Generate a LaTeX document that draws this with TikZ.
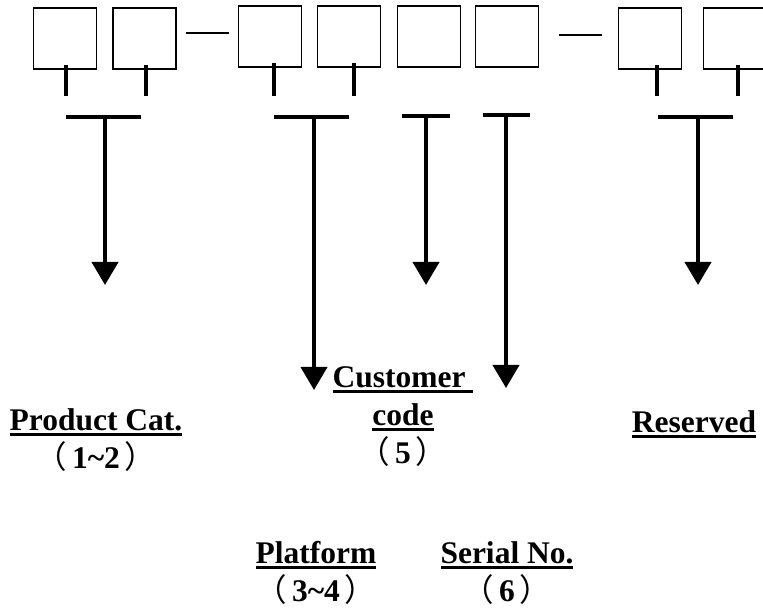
\documentclass[tikz,border=0pt]{standalone}
\usepackage{fontspec}
\setmainfont{Liberation Serif}
\newfontfamily\cjk{Noto Sans CJK SC}
\usetikzlibrary{arrows.meta}
\newcommand\myul[1]{\setbox0\hbox{#1}\rlap{\rule[-5.5pt]{\wd0}{3pt}}\box0}
\newcommand\lp{{\cjk\mdseries （}\hspace{5pt}}
\newcommand\rp{\hspace{5pt}{\cjk\mdseries ）}}
\begin{document}
\begin{tikzpicture}[x=1pt,y=-1pt,
  codebox/.style={draw,line width=1.6pt,inner sep=0pt,minimum width=63pt,minimum height=61pt},
  hyph/.style={line width=1.5pt},
  tick/.style={line width=4pt},
  tbar/.style={line width=4pt},
  arr/.style={line width=4pt,-{Triangle[length=23pt,width=26pt]}},
  lbl/.style={font=\fontsize{31.5}{38}\selectfont\bfseries,align=center,inner sep=0pt,anchor=base}]
\clip (0,0) rectangle (763,609);
\fill[white] (0,0) rectangle (763,609);
% boxes
\node[codebox] (b1) at (65,38.5) {};
\node[codebox] (b2) at (144.5,38.5) {};
\node[codebox] (b3) at (270,36.5) {};
\node[codebox] (b4) at (349,36.5) {};
\node[codebox] (b5) at (429,36.5) {};
\node[codebox] (b6) at (507,36.5) {};
\node[codebox] (b7) at (650,38.5) {};
\node[codebox] (b8) at (735,38.5) {};
% hyphens
\draw[hyph] (186,33) -- (229,33);
\draw[hyph] (559,35) -- (602,35);
% ticks
\draw[tick] (66,65) -- (66,96);
\draw[tick] (146,65) -- (146,96);
\draw[tick] (274,63) -- (274,96);
\draw[tick] (354,63) -- (354,96);
\draw[tick] (657,65) -- (657,96);
\draw[tick] (738,65) -- (738,96);
% T bars
\coordinate (t1) at (105,117);
\coordinate (t2) at (314,117);
\coordinate (t3) at (426,116);
\coordinate (t4) at (506,115);
\coordinate (t5) at (698,117);
\draw[tbar] (66,117) -- (141,117);
\draw[tbar] (274,117) -- (349,117);
\draw[tbar] (402,116) -- (450,116);
\draw[tbar] (483,115) -- (530,115);
\draw[tbar] (658,117) -- (733,117);
% arrow tips
\coordinate (e1) at (105,285);
\coordinate (e2) at (314,390);
\coordinate (e3) at (426,285);
\coordinate (e4) at (506,388);
\coordinate (e5) at (698,285);
\draw[arr] (t1) -- (e1);
\draw[arr] (t2) -- (e2);
\draw[arr] (t3) -- (e3);
\draw[arr] (t4) -- (e4);
\draw[arr] (t5) -- (e5);
% labels (anchor = baseline of last line)
\node[lbl] (lpc) at (96,468) {\myul{Product Cat.}\\\lp1\textasciitilde2\rp};
\node[lbl] (lcc) at (403,463) {\myul{Customer\ }\\\myul{code}\\\lp5\rp};
\node[lbl] (lrs) at (694,432) {\myul{Reserved}};
\node[lbl] (lpf) at (316,601) {\myul{Platform}\\\lp3\textasciitilde4\rp};
\node[lbl] (lsn) at (507,601) {\myul{Serial No.}\\\lp6\rp};
\end{tikzpicture}
\end{document}
